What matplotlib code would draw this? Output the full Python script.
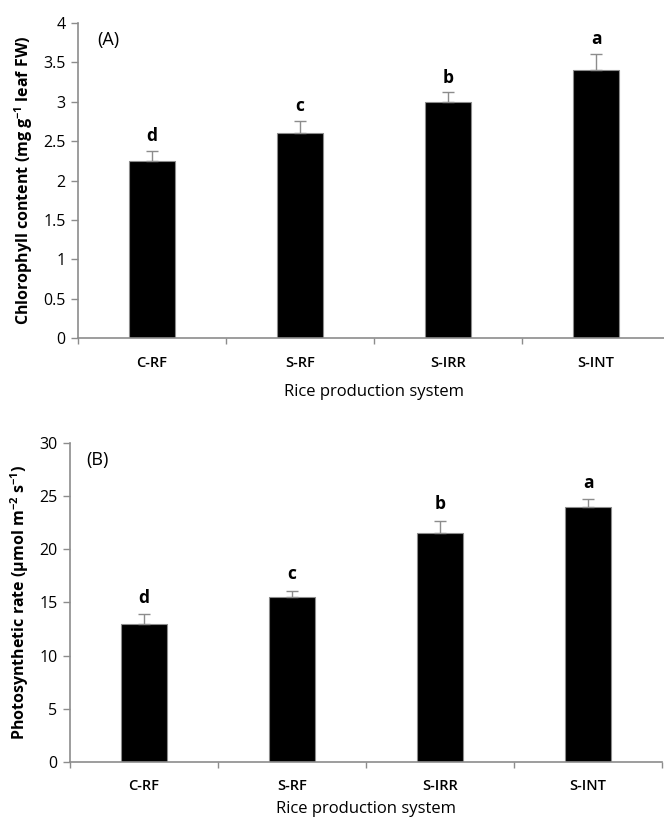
import matplotlib
matplotlib.use("Agg")
import matplotlib.pyplot as plt
from matplotlib.ticker import FuncFormatter

categories = ["C-RF", "S-RF", "S-IRR", "S-INT"]
chl_values = [2.25, 2.60, 3.00, 3.40]
chl_errors = [0.13, 0.16, 0.12, 0.21]
chl_letters = ["d", "c", "b", "a"]
ps_values = [13.0, 15.5, 21.5, 24.0]
ps_errors = [0.9, 0.6, 1.15, 0.7]
ps_letters = ["d", "c", "b", "a"]

plt.rcParams['font.family'] = ['Open Sans', 'DejaVu Sans']
plt.rcParams['mathtext.fontset'] = 'custom'
plt.rcParams['mathtext.rm'] = 'Open Sans'
plt.rcParams['mathtext.bf'] = 'Open Sans:bold'
axis_col = '#8c8c8c'

fig = plt.figure(figsize=(6.64, 8.22), dpi=100)
ax1 = fig.add_axes([0.1175, 0.5888, 0.8916, 0.3832])
ax2 = fig.add_axes([0.1054, 0.0730, 0.8916, 0.3884])

def style(ax, vals, errs, letters, ymax, ystep, letter_off, ylabel, panel, panel_x,
          tpad, xpad):
    x = list(range(len(categories)))
    ax.bar(x, vals, width=0.31, color='black', edgecolor=axis_col, linewidth=0.8, zorder=2)
    ax.errorbar(x, vals, yerr=[[0]*len(errs), errs], fmt='none', ecolor=axis_col,
                elinewidth=1.0, capsize=4, capthick=1.0, zorder=3)
    for xi, v, e, l in zip(x, vals, errs, letters):
        ax.text(xi, v + e + letter_off, l, ha='center', va='bottom', fontsize=12.5,
                fontweight='bold')
    ax.set_xlim(-0.5, 3.5)
    ax.set_ylim(0, ymax)
    yt = [i * ystep for i in range(int(round(ymax / ystep)) + 1)]
    ax.set_yticks(yt)
    ax.yaxis.set_major_formatter(FuncFormatter(lambda v, p: f"{v:g}"))
    ax.set_xticks([-0.5, 0.5, 1.5, 2.5, 3.5])
    ax.set_xticklabels([])
    ax.set_xticks(x, minor=True)
    ax.set_xticklabels(categories, minor=True, fontsize=10.5, fontweight='semibold')
    ax.tick_params(axis='x', which='minor', length=0, pad=tpad)
    ax.tick_params(axis='x', which='major', length=4, color=axis_col, width=1)
    ax.tick_params(axis='y', length=5, color=axis_col, width=1, labelsize=11.5, pad=4)
    for s in ['top', 'right']:
        ax.spines[s].set_visible(False)
    for s in ['left', 'bottom']:
        ax.spines[s].set_color(axis_col)
        ax.spines[s].set_linewidth(1.2)
    ax.set_ylabel(ylabel, fontsize=11.5, fontweight='bold', labelpad=6)
    ax.set_xlabel("Rice production system", fontsize=12, labelpad=xpad)
    ax.text(panel_x, 0.975, panel, transform=ax.transAxes, ha='left', va='top', fontsize=13)

style(ax1, chl_values, chl_errors, chl_letters, 4, 0.5, 0.07,
      "Chlorophyll content (mg g$^{\\mathbf{-1}}$ leaf FW)", "(A)", 0.032, 13, 10)
style(ax2, ps_values, ps_errors, ps_letters, 30, 5, 0.7,
      "Photosynthetic rate (μmol m$^{\\mathbf{-2}}$ s$^{\\mathbf{-1}}$)", "(B)", 0.027, 12, 6)

fig.savefig("out.png", dpi=100)
